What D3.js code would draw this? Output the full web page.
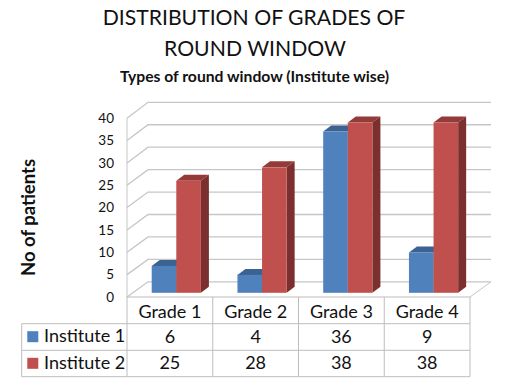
<!DOCTYPE html>
<html>
<head>
<meta charset="utf-8">
<style>
  html, body { margin: 0; padding: 0; background: #fff; }
  text { font-family: Lato, "Open Sans", sans-serif; fill: #111; }
</style>
<script src="https://cdn.jsdelivr.net/npm/d3@7"></script>
</head>
<body>
<svg id="chart" width="509" height="383" style="display:block"></svg>
<script>
const categories = ['Grade 1', 'Grade 2', 'Grade 3', 'Grade 4'];
const seriesNames = ['Institute 1', 'Institute 2'];
const institute1 = [6, 4, 36, 9];
const institute2 = [25, 28, 38, 38];
const yTicks = [0, 5, 10, 15, 20, 25, 30, 35, 40];
const seriesValues = [institute1, institute2];

const colors = {
  'Institute 1': { front: '#4f81bd', top: '#3a6392', side: '#34587f', swatch: '#4f81bd' },
  'Institute 2': { front: '#c0504d', top: '#943a38', side: '#7b2f2e', swatch: '#c0504d' }
};

const DEPTH_X = 8; // bar depth
const DEPTH_Y = 6;
const WALL_X = 21; // wall depth
const GRID = '#c6c6c6';
const TABLE_LINE = '#bdbdbd';

const svg = d3.select('#chart');

const x = d3.scaleBand().domain(categories).range([127, 470]);
const inner = d3.scaleBand().domain(seriesNames).range([24.7, 73.9]);
const yFront = d3.scaleLinear().domain([0, 40]).range([297, 118.2]);
const yBack = d3.scaleLinear().domain([0, 40]).range([281.8, 102.3]);
const yBar = d3.scaleLinear().domain([0, 40]).range([292.8, 113.6]);

// Walls and gridlines
const walls = svg.append('g').attr('fill', 'none').attr('stroke', GRID);
walls.selectAll('.grid')
  .data(yTicks)
  .join('path')
  .classed('grid', true)
  .attr('stroke-width', 1.3)
  .attr('d', d => `M${x.range()[0]},${yFront(d)}L${x.range()[0] + WALL_X},${yBack(d)}H${x.range()[1] + WALL_X}`);
walls.append('path')
  .attr('d', `M${x.range()[0]},${yFront(0)}V${yFront(40)}`);
walls.append('path')
  .attr('d', `M${x.range()[1]},${yFront(0)}L${x.range()[1] + WALL_X},${yBack(0)}`);

// Bars
const groups = svg.append('g').selectAll('g')
  .data(seriesNames)
  .join('g');
groups.each(function (name, s) {
  const bars = d3.select(this).selectAll('g')
    .data(seriesValues[s].map((value, i) => ({ value, category: categories[i] })))
    .join('g');
  const left = d => x(d.category) + inner(name);
  const right = d => left(d) + inner.bandwidth();
  bars.append('path')
    .attr('fill', colors[name].top)
    .attr('d', d => `M${left(d)},${yBar(d.value)}l${DEPTH_X},${-DEPTH_Y}H${right(d) + DEPTH_X}L${right(d)},${yBar(d.value)}Z`);
  bars.append('path')
    .attr('fill', colors[name].side)
    .attr('d', d => `M${right(d)},${yBar(d.value)}l${DEPTH_X},${-DEPTH_Y}V${yBar(0) - DEPTH_Y}L${right(d)},${yBar(0)}Z`);
  bars.append('rect')
    .attr('fill', colors[name].front)
    .attr('x', left)
    .attr('y', d => yBar(d.value))
    .attr('width', inner.bandwidth())
    .attr('height', d => yBar(0) - yBar(d.value));
});

// Value axis
const yAxis = d3.axisLeft(yFront).tickValues(yTicks).tickSize(0).tickPadding(13);
const axisG = svg.append('g').attr('transform', 'translate(127,0)').call(yAxis);
axisG.select('.domain').remove();
axisG.selectAll('text').style('font-family', 'Lato, sans-serif').attr('font-size', 13.5).attr('fill', '#111');

// Data table
const rowTop = [297, 323.7, 350.3, 376.7];
const legendLeft = 21.7;
const table = svg.append('g').attr('stroke', TABLE_LINE).attr('fill', 'none');
table.append('path').attr('d', `M${x.range()[0]},${rowTop[0]}H${x.range()[1]}`);
table.selectAll('.row')
  .data(rowTop.slice(1))
  .join('path')
  .classed('row', true)
  .attr('d', d => `M${legendLeft},${d}H${x.range()[1]}`);
table.selectAll('.col')
  .data(categories.map(c => x(c)).concat(x.range()[1]))
  .join('path')
  .classed('col', true)
  .attr('d', d => `M${d},${rowTop[0]}V${rowTop[3]}`);
table.append('path').attr('d', `M${legendLeft},${rowTop[1]}V${rowTop[3]}`);

const cellText = svg.append('g').attr('font-size', 18).attr('text-anchor', 'middle');
cellText.selectAll('.head')
  .data(categories)
  .join('text')
  .classed('head', true)
  .attr('x', d => x(d) + x.bandwidth() / 2)
  .attr('y', rowTop[0] + 21.3)
  .text(d => d);
seriesValues.forEach((values, s) => {
  cellText.selectAll(`.v${s}`)
    .data(values)
    .join('text')
    .classed(`v${s}`, true)
    .attr('x', (d, i) => x(categories[i]) + x.bandwidth() / 2)
    .attr('y', rowTop[s + 1] + 18.8)
    .text(d => d);
});

// Legend keys
const keys = svg.append('g').selectAll('g')
  .data(seriesNames)
  .join('g')
  .attr('transform', (d, i) => `translate(0,${rowTop[i + 1]})`);
keys.append('rect')
  .attr('x', 27.3)
  .attr('y', 7.5)
  .attr('width', 11)
  .attr('height', 11)
  .attr('fill', d => colors[d].swatch);
keys.append('text')
  .attr('x', 44)
  .attr('y', 18.8)
  .attr('font-size', 18)
  .text(d => d);

// Titles
svg.append('text').attr('x', 254).attr('y', 25).attr('text-anchor', 'middle')
  .attr('font-size', 21.2).text('DISTRIBUTION OF GRADES OF');
svg.append('text').attr('x', 255).attr('y', 55.5).attr('text-anchor', 'middle')
  .attr('font-size', 21.2).text('ROUND WINDOW');
svg.append('text').attr('x', 254.5).attr('y', 82).attr('text-anchor', 'middle')
  .attr('font-size', 15.7).attr('font-weight', 700).text('Types of round window (Institute wise)');
svg.append('text').attr('transform', 'translate(35,217.5) rotate(-90)').attr('text-anchor', 'middle')
  .attr('font-size', 18.5).attr('font-weight', 700).text('No of patients');
</script>
</body>
</html>
